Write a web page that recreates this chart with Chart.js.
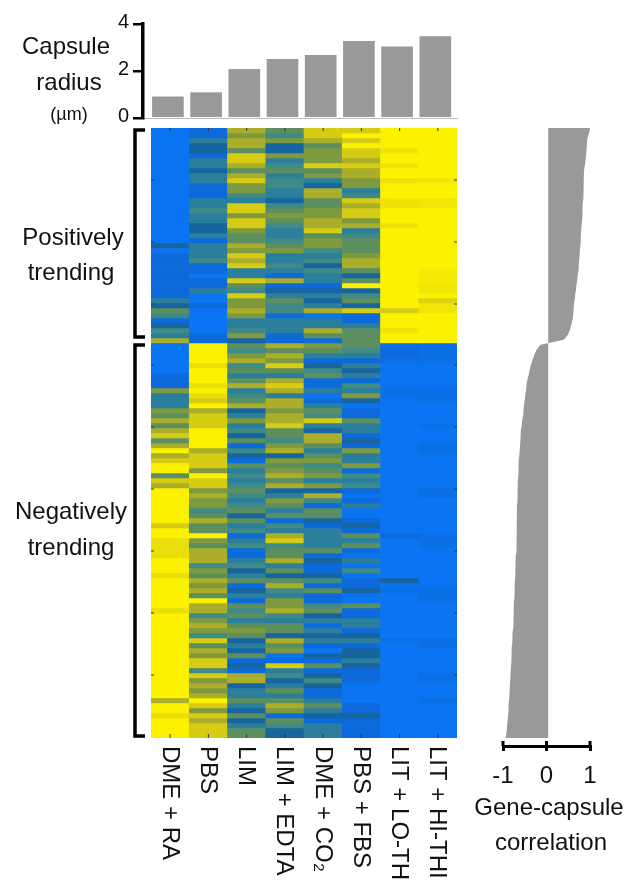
<!DOCTYPE html>
<html>
<head>
<meta charset="utf-8">
<title>Gene-capsule heatmap</title>
<script src="https://cdn.jsdelivr.net/npm/chart.js@4"></script>
<style>
  html, body { margin: 0; padding: 0; background: #fff; overflow: hidden; }
  canvas { position: absolute; left: 0; top: 0; }
  #heat, #corr { filter: blur(0.6px); }
</style>
</head>
<body>
<canvas id="heat" width="627" height="882"></canvas>
<canvas id="corr" width="627" height="882"></canvas>
<canvas id="radius" width="627" height="882"></canvas>
<script>
'use strict';

const categories = ['DME + RA', 'PBS', 'LIM', 'LIM + EDTA', 'DME + CO₂', 'PBS + FBS', 'LIT + LO-THI', 'LIT + HI-THI'];
const capsuleRadius = [0.9, 1.08, 2.07, 2.5, 2.67, 3.26, 3.03, 3.46];
const radiusTicks = [0, 2, 4];
const corrTicks = [-1, 0, 1];

// heatmap cells, one array per condition, top row first, 0 = low (blue) to 9 = high (yellow)
const dmeRa = [0,0,0,0,0,0,0,0,0,0,0,0,0,0,0,0,0,0,0,0,0,0,0,2,0,1,1,1,1,1,1,1,1,1,3,2,5,4,1,2,4,3,7,
  0,0,0,0,0,0,1,1,1,6,3,3,3,6,5,7,5,7,8,5,7,9,7,8,9,9,5,8,7,9,9,9,9,9,9,9,8,9,9,
  8.5,8.5,8.5,8.5,9,9,9,8.5,9,9,9,9,9,9,8.5,9,9,9,9,9,9,9,9,9,9,9,9,9,9,9,9,9,7,9,9,8.5,9,9,9,9];
const pbs = [1,1,3,2,2,1,3,3,2,3,3,1,1,1,3,3,4,3,3,2,2,3,1,3,3,3,4,1,1,0,1,1,3,0,0,1,0,0,0,0,0,1,1,
  9,9,9,9,8.5,9,9,9,8.5,9,8.5,8,9,7,8,8,8,9,9,9,9,7,8,8,8,6,9,8,8,6,7,6,6,4,5,7,5,5,9,
  6,5,7,7,7,4,6,5,7,6,7,5,9,7,7,4,6,7,6,4,8,5,7,6,8,8,4,8,6,7,6,7,9,8,6,8,7,8,8,8];
const lim = [7,6,7,7,5,8,8,7,5,7,8,6,6,4,3,8,8,6,8,8,6,5,5,7,6,8,7,8,3,3,8,5,4,8,6,6,7,6,3,3,4,6,2,
  5,4,6,7,4,5,3,5,7,3,4,5,7,2,3,6,3,4,2,5,1,4,2,1,5,3,4,3,4,5,4,3,4,5,2,5,3,4,1,
  3,4,1,1,3,4,2,3,5,1,2,3,1,5,4,5,3,5,6,5,2,3,2,5,1,2,1,7,7,2,3,3,5,3,2,5,2,3,5,5];
const limEdta = [5,4,6,2,2,6,3,4,5,3,4,4,3,3,2,4,5,6,5,4,3,3,4,5,6,3,3,4,3,1,7,1,2,3,5,4,4,1,3,3,3,1,1,
  7,5,7,6,8,5,3,7,8,7,3,7,7,6,7,7,8,5,5,4,6,7,2,6,5,6,7,5,7,2,3,6,5,3,5,1,4,3,7,
  8,4,5,5,7,3,5,2,5,7,4,3,6,6,7,4,3,5,5,2,7,5,6,0,1,8,3,4,2,3,5,3,5,7,6,1,5,4,2,2];
const dmeCo2 = [8,8,7,5,6,6,6,8,5,6,3,2,7,7,5,5,6,6,7,7,8,5,6,6,4,3,4,2,4,3,3,1,2,3,2,3,7,0,3,3,7,5,1,
  6,5,3,1,2,4,5,1,1,3,0,1,3,5,4,8,3,2,7,7,5,3,5,6,4,5,6,3,6,2,7,4,1,5,5,2,1,3,3,
  3,3,5,1,2,1,1,2,4,1,5,1,1,4,5,2,3,1,3,2,3,1,0,2,1,5,1,2,4,2,1,1,3,5,3,2,1,3,3,3];
const pbsFbs = [8,9,8,9,8,8,7,8,7,7,6,6,3,4,8,7,8,8,6,7,3,4,5,5,5,6,7,7,5,2,5,9,2,4,5,2,8,1,1,3,5,5,5,
  5,4,3,1,3,2,3,1,4,3,6,2,0,1,1,5,3,3,1,2,1,6,3,3,6,1,4,3,4,1,0,1,3,0,0,1,2,1,5,
  3,5,1,0,3,0,4,0,1,1,2,0,0,5,1,1,3,3,1,2,3,1,2,2,3,2,1,1,1,0,0,0,0,1,1,2,1,1,1,1];
const litLo = [9,9,9,9,8.6,9,9,8.6,9,9,8.6,9,9,9,8.6,8.6,9,9,9,8.6,9,9,9,9,9,9,9,9,9,9,9,9,9,9,9,9,8,9,9,9,8.6,9,9,
  0.5,1,1,0.5,0,0,0,0,0,0.5,0.5,0,0,0,0,0,0,0,0,0,0,0,0,0,0,0,0,0,0,0,0,0,0,0,0,0,0,0,1,
  0,0,0,0,0,0,0,0,2,0,0.5,0,0,0,0,0,0,0,0,0,0.5,0,0,0,0,0,0,0,0,0,0,0,0,0,0,0,0,0,0,0];
const litHi = [9,9,9,9,9,9,9,9,9,9,8.7,9,9,9,8.7,8.7,9,9,9,9,9,9,9,9,9,9,9,9,8.8,8.8,8.8,8.7,8.7,9,8.2,8.7,8.7,9,9,9,9,9,9,
  0.5,0.5,0.5,0.5,0,0,0,0,0,0.5,0.5,0.5,0,0,0,0,0.5,0,0,0,0.5,0.5,0,0,0,0,0,0,0,0.5,0.5,0,0,0,0,0,0,0,0.5,
  0.5,0.5,0,0,0,0,0,0,0,0,0.5,0.5,0.5,0,0,0,0,0,0,0,0.5,0.5,0,0,0,0,0,0.5,0.5,0,0,0,0.5,0,0,0,0,0,0,0];

// correlation of each row with capsule radius, same row order as the heatmap
const correlation = [1.0,.98,.94,.93,.92,.91,.90,.89,.87,.86,.86,.85,.85,.84,.84,.83,.83,.82,.82,.81,.80,.79,.79,.78,.77,.76,.75,.74,.74,.72,.71,.69,.68,.66,.65,.63,.62,.61,.60,.57,.54,.49,.40,
  -.14,-.23,-.28,-.32,-.36,-.39,-.41,-.44,-.46,-.47,-.49,-.50,-.52,-.53,-.54,-.56,-.57,-.59,-.60,-.60,-.61,-.62,-.63,-.64,-.64,-.65,-.65,-.66,-.66,-.67,-.67,-.67,-.68,-.68,-.68,-.69,-.69,-.69,-.69,-.69,-.70,-.70,-.71,-.71,-.72,-.72,-.72,-.73,-.73,-.74,-.74,-.75,-.75,-.76,-.76,-.77,-.77,-.78,-.78,-.79,-.80,-.80,-.81,-.81,-.82,-.83,-.83,-.84,-.85,-.85,-.86,-.87,-.87,-.88,-.89,-.90,-.91,-.92,-.94];

const palette = [[10,116,242], [12,106,218], [23,101,159], [43,127,156], [63,138,132], [92,143,96], [127,154,62], [170,174,42], [214,204,20], [252,242,0]];
const heatColumns = [dmeRa, pbs, lim, limEdta, dmeCo2, pbsFbs, litLo, litHi];
const rowCount = correlation.length;
const FONT = '"Liberation Sans", Arial, sans-serif';

Chart.defaults.animation = false;
Chart.defaults.responsive = false;
Chart.defaults.font.family = FONT;
Chart.defaults.plugins.legend.display = false;
Chart.defaults.plugins.tooltip.enabled = false;

function cellColor(v) {
  const lo = Math.floor(v), hi = Math.ceil(v), t = v - lo;
  const c = palette[lo].map((p, i) => Math.round(p + (palette[hi][i] - p) * t));
  return 'rgb(' + c.join(',') + ')';
}

function line(ctx, x1, y1, x2, y2, width, color) {
  ctx.beginPath();
  ctx.moveTo(x1, y1);
  ctx.lineTo(x2, y2);
  ctx.lineWidth = width;
  ctx.strokeStyle = color;
  ctx.stroke();
}

function label(ctx, text, x, y, size) {
  ctx.font = size + 'px ' + FONT;
  ctx.fillStyle = '#111';
  ctx.textAlign = 'center';
  ctx.textBaseline = 'middle';
  ctx.fillText(text, x, y);
}

// little MATLAB ticks that sit inside the heatmap frame
const heatTicks = {
  id: 'heatTicks',
  afterDraw(chart) {
    const { ctx, chartArea: a, scales } = chart;
    categories.forEach((c, i) => {
      const x = scales.x.getPixelForValue(i);
      line(ctx, x, a.top, x, a.top + 3, 1, '#333');
      line(ctx, x, a.bottom - 4, x, a.bottom, 1, '#333');
    });
    [10.4, 22.8, 35.2, 47.4, 59.8, 72.2, 84.6, 97, 109.4].forEach(r => {
      const y = scales.y.getPixelForValue(r);
      line(ctx, a.left, y, a.left + 3, y, 1, '#333');
      line(ctx, a.right - 3, y, a.right, y, 1, '#333');
    });
  }
};

new Chart(document.getElementById('heat'), {
  type: 'bar',
  data: {
    labels: categories,
    datasets: correlation.map((c, row) => ({
      data: categories.map(() => [row, row + 1]),
      backgroundColor: ctx => cellColor(heatColumns[ctx.dataIndex][row]),
      borderWidth: 0,
      barPercentage: 1,
      categoryPercentage: 1
    }))
  },
  options: {
    layout: { padding: { left: 151, right: 170, top: 128, bottom: 144 } },
    scales: {
      x: { display: false, offset: true },
      y: { display: false, reverse: true, min: 0, max: rowCount }
    },
    datasets: { bar: { grouped: false } }
  },
  plugins: [heatTicks]
});

// titles, brackets and the rotated condition names
const annotations = {
  id: 'annotations',
  afterDraw(chart) {
    const { ctx } = chart;
    ctx.save();

    [[130, 337], [345, 736]].forEach(([top, bottom]) => {
      ctx.beginPath();
      ctx.moveTo(145, top);
      ctx.lineTo(135, top);
      ctx.lineTo(135, bottom);
      ctx.lineTo(145, bottom);
      ctx.lineWidth = 3.5;
      ctx.strokeStyle = '#000';
      ctx.stroke();
    });

    label(ctx, 'Capsule', 66, 47, 24);
    label(ctx, 'radius', 69, 83, 24);
    label(ctx, '(µm)', 69, 115, 18);
    label(ctx, 'Positively', 73, 238, 24);
    label(ctx, 'trending', 71, 273, 24);
    label(ctx, 'Negatively', 71, 512, 24);
    label(ctx, 'trending', 71, 548, 24);
    label(ctx, 'Gene-capsule', 549, 808, 24);
    label(ctx, 'correlation', 551, 843, 24);

    categories.forEach((c, i) => {
      ctx.save();
      ctx.translate(169.3 + 38.25 * i, 746);
      ctx.rotate(Math.PI / 2);
      ctx.font = '24px ' + FONT;
      ctx.fillStyle = '#111';
      ctx.textAlign = 'left';
      ctx.textBaseline = 'middle';
      ctx.fillText(c, 0, 0);
      ctx.restore();
    });
    ctx.restore();
  }
};

new Chart(document.getElementById('radius'), {
  type: 'bar',
  data: {
    datasets: [{
      data: capsuleRadius.map((v, i) => ({ x: i, y: v })),
      backgroundColor: '#999999',
      barThickness: 31
    }]
  },
  options: {
    layout: { padding: { left: 113, right: 170, top: 24, bottom: 764 } },
    scales: {
      x: {
        type: 'linear',
        offset: false,
        min: -0.652,
        max: 7.568,
        ticks: { display: false },
        grid: { display: false, drawTicks: false },
        border: { color: '#bbbbbb', width: 1 }
      },
      y: {
        min: 0,
        max: 4,
        afterBuildTicks: scale => { scale.ticks = radiusTicks.map(v => ({ value: v })); },
        afterFit: scale => { scale.width = 30; },
        ticks: { color: '#111', font: { size: 20 }, padding: 4, labelOffset: -2 },
        grid: { drawOnChartArea: false, color: '#000', lineWidth: 2.5, tickLength: 10 },
        border: { color: '#000', width: 3.5 }
      }
    }
  },
  plugins: [annotations]
});

// the correlation axis ticks straddle the axis line
const axisCaps = {
  id: 'axisCaps',
  afterDraw(chart) {
    const { ctx, chartArea: a, scales } = chart;
    corrTicks.forEach(v => {
      const x = scales.x.getPixelForValue(v);
      line(ctx, x, a.bottom - 5, x, a.bottom, 3, '#000');
    });
  }
};

new Chart(document.getElementById('corr'), {
  type: 'line',
  data: {
    datasets: [{
      data: correlation.map((v, row) => ({ x: v, y: row * rowCount / (rowCount - 1) })),
      backgroundColor: '#999999',
      borderWidth: 0,
      pointRadius: 0,
      fill: { value: 0.04 }
    }]
  },
  options: {
    indexAxis: 'y',
    layout: { padding: { left: 503, right: 37, top: 128, bottom: 96 } },
    scales: {
      x: {
        type: 'linear',
        min: -1,
        max: 1,
        afterBuildTicks: scale => { scale.ticks = corrTicks.map(v => ({ value: v })); },
        afterFit: scale => { scale.height = 40; },
        ticks: { color: '#111', font: { size: 24 }, padding: 11, maxRotation: 0 },
        grid: { drawOnChartArea: false, color: '#000', lineWidth: 3, tickLength: 5 },
        border: { color: '#000', width: 3 }
      },
      y: { type: 'linear', display: false, reverse: true, min: 0, max: 123.6 }
    }
  },
  plugins: [axisCaps]
});
</script>
</body>
</html>
